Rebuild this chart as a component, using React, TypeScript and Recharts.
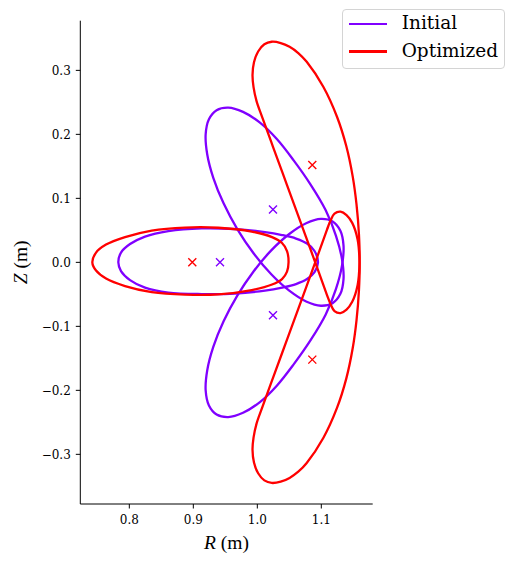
import React from 'react';
import { ComposedChart, Line, Scatter, XAxis, YAxis, Label } from 'recharts';

// ---------------- data ----------------
// Initial configuration, cross-section at phi = 0 (horizontal ellipse)
const initialPhi0R = [1.0948, 1.0894, 1.0777, 1.0605, 1.0386, 1.012, 0.9652, 0.9131, 0.8609, 0.8245, 0.8011, 0.787, 0.7828, 0.787, 0.8011, 0.8245, 0.8609, 0.9131, 0.9652, 1.012, 1.0386, 1.0605, 1.0777, 1.0894];
const initialPhi0Z = [0.0, 0.0177, 0.0294, 0.0372, 0.0427, 0.0473, 0.052, 0.0531, 0.0489, 0.0403, 0.0286, 0.0153, 0.0, -0.0136, -0.0277, -0.0394, -0.0472, -0.0495, -0.0488, -0.0441, -0.0394, -0.0339, -0.0261, -0.0152];

// Initial configuration, upper tilted cross-section
const initialUpperR = [1.1176, 1.1296, 1.1347, 1.1323, 1.1228, 1.1067, 1.083, 1.0565, 1.0305, 1.0041, 0.9777, 0.9546, 0.9364, 0.9244, 0.9193, 0.9217, 0.9312, 0.9473, 0.9687, 0.9941, 1.0218, 1.0499, 1.0763, 1.0994];
const initialUpperZ = [-0.0638, -0.0496, -0.0261, 0.0051, 0.0419, 0.0818, 0.122, 0.1598, 0.1927, 0.2183, 0.2351, 0.2418, 0.2378, 0.2236, 0.2001, 0.1689, 0.1321, 0.0922, 0.052, 0.0142, -0.0187, -0.0443, -0.0611, -0.0678];

// Initial configuration, lower tilted cross-section
const initialLowerR = [1.1176, 1.1296, 1.1347, 1.1323, 1.1228, 1.1067, 1.083, 1.0565, 1.0305, 1.0041, 0.9777, 0.9546, 0.9364, 0.9244, 0.9193, 0.9217, 0.9312, 0.9473, 0.9687, 0.9941, 1.0218, 1.0499, 1.0763, 1.0994];
const initialLowerZ = [0.0638, 0.0496, 0.0261, -0.0051, -0.0419, -0.0818, -0.122, -0.1598, -0.1927, -0.2183, -0.2351, -0.2418, -0.2378, -0.2236, -0.2001, -0.1689, -0.1321, -0.0922, -0.052, -0.0142, 0.0187, 0.0443, 0.0611, 0.0678];

// Optimized configuration, phi = 0
const optimizedPhi0R = [1.0488, 1.0464, 1.0386, 1.023, 0.9913, 0.9391, 0.887, 0.835, 0.7933, 0.7636, 0.748, 0.7422, 0.748, 0.7636, 0.7933, 0.835, 0.887, 0.9391, 0.9913, 1.023, 1.0386, 1.0464];
const optimizedPhi0Z = [0.0, 0.0177, 0.0302, 0.0395, 0.0481, 0.0541, 0.0544, 0.0497, 0.0395, 0.0278, 0.0153, 0.0, -0.0128, -0.0253, -0.037, -0.0464, -0.0503, -0.05, -0.0433, -0.0347, -0.0261, -0.0144];

// Optimized configuration, upper tilted cross-section
const optimizedUpperR = [1.0225, 1.0366, 1.0504, 1.064, 1.0772, 1.1031, 1.1245, 1.1391, 1.1491, 1.155, 1.1588, 1.1598, 1.1567, 1.1483, 1.1394, 1.13, 1.1206, 1.1139, 1.1089, 1.0902, 1.0683, 1.0464, 1.0245, 1.0073, 0.9988, 0.9941, 0.9925, 0.9948, 1.0013, 1.011];
const optimizedUpperZ = [0.3447, 0.3427, 0.3368, 0.3271, 0.3134, 0.2744, 0.2275, 0.1813, 0.1339, 0.0905, 0.0438, 0.0, -0.0358, -0.0617, -0.0739, -0.0792, -0.0761, -0.0641, -0.0511, 0.0009, 0.0609, 0.1208, 0.1806, 0.2278, 0.252, 0.2739, 0.2927, 0.3126, 0.3295, 0.3407];

// Optimized configuration, lower tilted cross-section
const optimizedLowerR = [1.0225, 1.0366, 1.0504, 1.064, 1.0772, 1.1031, 1.1245, 1.1391, 1.1491, 1.155, 1.1588, 1.1598, 1.1567, 1.1483, 1.1394, 1.13, 1.1206, 1.1139, 1.1089, 1.0902, 1.0683, 1.0464, 1.0245, 1.0073, 0.9988, 0.9941, 0.9925, 0.9948, 1.0013, 1.011];
const optimizedLowerZ = [-0.3447, -0.3427, -0.3368, -0.3271, -0.3134, -0.2744, -0.2275, -0.1813, -0.1339, -0.0905, -0.0438, 0.0, 0.0358, 0.0617, 0.0739, 0.0792, 0.0761, 0.0641, 0.0511, -0.0009, -0.0609, -0.1208, -0.1806, -0.2278, -0.252, -0.2739, -0.2927, -0.3126, -0.3295, -0.3407];

// Magnetic axis positions (crosses)
const initialAxisR = [0.9417, 1.0245, 1.0245];
const initialAxisZ = [0.0, 0.0825, -0.0825];
const optimizedAxisR = [0.8984, 1.0859, 1.0859];
const optimizedAxisZ = [0.0, 0.152, -0.152];

const xTicks = [0.8, 0.9, 1.0, 1.1];
const yTicks = [-0.3, -0.2, -0.1, 0.0, 0.1, 0.2, 0.3];
const xDomain = [0.7234, 1.1803];
const yDomain = [-0.3776, 0.3776];

const seriesNames = ['Initial', 'Optimized'];
const seriesColors = ['#8000ff', '#ff0000'];

// ---------------- helpers ----------------
const zip = (rs: number[], zs: number[]) => rs.map((r, i) => ({ r, z: zs[i] }));

const curvesInitial = [zip(initialPhi0R, initialPhi0Z), zip(initialUpperR, initialUpperZ), zip(initialLowerR, initialLowerZ)];
const curvesOptimized = [zip(optimizedPhi0R, optimizedPhi0Z), zip(optimizedUpperR, optimizedUpperZ), zip(optimizedLowerR, optimizedLowerZ)];
const axisInitial = zip(initialAxisR, initialAxisZ);
const axisOptimized = zip(optimizedAxisR, optimizedAxisZ);

// closed centripetal Catmull-Rom curve factory (rendering only)
function closedSmooth(context: any) {
  let pts: number[][] = [];
  return {
    areaStart() {},
    areaEnd() {},
    lineStart() {
      pts = [];
    },
    point(x: number, y: number) {
      pts.push([+x, +y]);
    },
    lineEnd() {
      const n = pts.length;
      if (n === 0) return;
      context.moveTo(pts[0][0], pts[0][1]);
      if (n < 3) {
        for (let i = 1; i < n; i++) context.lineTo(pts[i][0], pts[i][1]);
        context.closePath();
        return;
      }
      for (let i = 0; i < n; i++) {
        const p0 = pts[(i - 1 + n) % n];
        const p1 = pts[i];
        const p2 = pts[(i + 1) % n];
        const p3 = pts[(i + 2) % n];
        const l01 = Math.hypot(p1[0] - p0[0], p1[1] - p0[1]);
        const l12 = Math.hypot(p2[0] - p1[0], p2[1] - p1[1]);
        const l23 = Math.hypot(p3[0] - p2[0], p3[1] - p2[1]);
        const l01a = Math.sqrt(l01);
        const l12a = Math.sqrt(l12);
        const l23a = Math.sqrt(l23);
        let c1x = p1[0];
        let c1y = p1[1];
        let c2x = p2[0];
        let c2y = p2[1];
        if (l01a > 1e-9) {
          const a = 2 * l01 + 3 * l01a * l12a + l12;
          const nn = 3 * l01a * (l01a + l12a);
          c1x = (p1[0] * a - p0[0] * l12 + p2[0] * l01) / nn;
          c1y = (p1[1] * a - p0[1] * l12 + p2[1] * l01) / nn;
        }
        if (l23a > 1e-9) {
          const b = 2 * l23 + 3 * l23a * l12a + l12;
          const m = 3 * l23a * (l23a + l12a);
          c2x = (p2[0] * b + p1[0] * l23 - p3[0] * l12) / m;
          c2y = (p2[1] * b + p1[1] * l23 - p3[1] * l12) / m;
        }
        context.bezierCurveTo(c1x, c1y, c2x, c2y, p2[0], p2[1]);
      }
      context.closePath();
    },
  };
}

const fmt = (v: number) => (v < -1e-9 ? '\u2212' : '') + Math.abs(v).toFixed(1);

const makeCross = (color: string) => (props: any) => {
  const { cx, cy } = props;
  if (cx == null || cy == null) return <g />;
  const s = 4;
  return (
    <path
      d={`M${cx - s},${cy - s}L${cx + s},${cy + s}M${cx - s},${cy + s}L${cx + s},${cy - s}`}
      stroke={color}
      strokeWidth={1.4}
      fill="none"
    />
  );
};

const W = 498;
const H = 549;
const TICK_FONT = { fontFamily: '"DejaVu Serif", serif', fontSize: 12, fill: '#000' };

const XLabelContent = (props: any) => {
  const vb = props.viewBox || { x: 72.3, y: 496, width: 292.4, height: 30 };
  return (
    <text x={vb.x + vb.width / 2} y={vb.y + 45} textAnchor="middle" fontFamily='"Liberation Serif", serif' fontSize={19.5} fill="#000">
      <tspan fontStyle="italic">R</tspan>
      <tspan> (m)</tspan>
    </text>
  );
};

const YLabelContent = (props: any) => {
  const vb = props.viewBox || { x: 12.3, y: 12.7, width: 60, height: 483.3 };
  const x = 19.5;
  const y = vb.y + vb.height / 2;
  return (
    <text x={x} y={y} transform={`rotate(-90, ${x}, ${y})`} textAnchor="middle" fontFamily='"Liberation Serif", serif' fontSize={19.5} fill="#000">
      <tspan fontStyle="italic">Z</tspan>
      <tspan> (m)</tspan>
    </text>
  );
};

const LegendBox = () => (
  <div
    style={{
      position: 'absolute',
      left: 333.7,
      top: 1.3,
      width: 163.3,
      height: 60,
      boxSizing: 'border-box',
      border: '1px solid #d4d4d4',
      borderRadius: 4,
      background: 'rgba(255,255,255,0.8)',
    }}
  >
    {seriesNames.map((name, i) => {
      const cy = i === 0 ? 13.7 : 41.2;
      return (
        <React.Fragment key={name}>
          <div style={{ position: 'absolute', left: 6.3, top: cy - 1.15, width: 38, height: 2.3, background: seriesColors[i] }} />
          <div
            style={{
              position: 'absolute',
              left: 59,
              top: cy - 10.5,
              height: 20,
              lineHeight: '20px',
              fontSize: 18.5,
              fontFamily: '"DejaVu Serif", serif',
              color: '#000',
              whiteSpace: 'nowrap',
            }}
          >
            {name}
          </div>
        </React.Fragment>
      );
    })}
  </div>
);

export default function App() {
  return (
    <div style={{ position: 'relative', width: W, height: H }}>
      <ComposedChart width={W} height={H} margin={{ top: 12.7, right: 133.3, bottom: 23, left: 12.3 }}>
        <XAxis
          type="number"
          dataKey="r"
          domain={xDomain}
          ticks={xTicks}
          interval={0}
          allowDataOverflow
          height={30}
          tickFormatter={fmt}
          tick={TICK_FONT}
          tickSize={4.5}
          tickMargin={6.5}
          axisLine={{ stroke: '#000', strokeWidth: 1 }}
          tickLine={{ stroke: '#000', strokeWidth: 1 }}
        >
          <Label content={XLabelContent} />
        </XAxis>
        <YAxis
          type="number"
          dataKey="z"
          domain={yDomain}
          ticks={yTicks}
          interval={0}
          allowDataOverflow
          width={60}
          tickFormatter={fmt}
          tick={TICK_FONT}
          tickSize={4.5}
          tickMargin={5}
          axisLine={{ stroke: '#000', strokeWidth: 1 }}
          tickLine={{ stroke: '#000', strokeWidth: 1 }}
        >
          <Label content={YLabelContent} />
        </YAxis>
        {curvesInitial.map((d, i) => (
          <Line
            key={`init-${i}`}
            data={d}
            dataKey="z"
            type={closedSmooth as any}
            stroke={seriesColors[0]}
            strokeWidth={2.3}
            dot={false}
            activeDot={false}
            isAnimationActive={false}
          />
        ))}
        {curvesOptimized.map((d, i) => (
          <Line
            key={`opt-${i}`}
            data={d}
            dataKey="z"
            type={closedSmooth as any}
            stroke={seriesColors[1]}
            strokeWidth={2.3}
            dot={false}
            activeDot={false}
            isAnimationActive={false}
          />
        ))}
        <Scatter data={axisInitial} dataKey="z" shape={makeCross(seriesColors[0])} isAnimationActive={false} />
        <Scatter data={axisOptimized} dataKey="z" shape={makeCross(seriesColors[1])} isAnimationActive={false} />
      </ComposedChart>
      <LegendBox />
    </div>
  );
}
